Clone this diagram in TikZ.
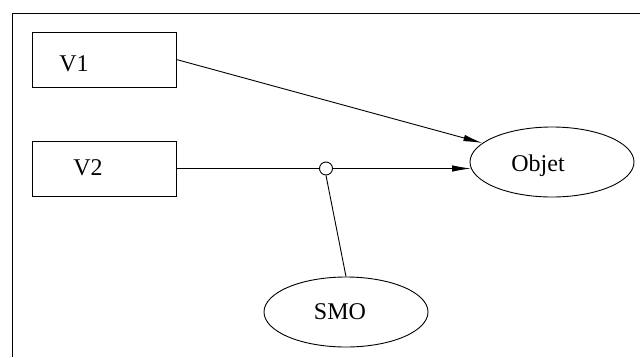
\documentclass[tikz,border=0pt]{standalone}
\usepackage{fontspec}
\setmainfont{Liberation Serif}
\usetikzlibrary{arrows.meta,shapes.geometric}
\begin{document}
\begin{tikzpicture}[x=1pt,y=-1pt,line width=0.9pt,
  varbox/.style={draw,minimum width=144pt,minimum height=55pt,inner sep=0pt},
  oval/.style={draw,ellipse,minimum width=164pt,minimum height=70pt,inner sep=0pt},
  lbl/.style={font=\fontsize{24}{26}\selectfont,inner sep=0pt},
  link/.style={-{Latex[length=19pt,width=6.5pt]}},
  joint/.style={draw,circle,fill=white,minimum size=13pt,inner sep=0pt}]
\useasboundingbox (0,0) rectangle (640,357);
% open frame: top and left sides only
\draw (12.5,357) -- (12.5,13) -- (640,13);
% variable boxes
\node[varbox] (v1) at (104,59.5) {};
\node[lbl] (v1t) at (74,64) {V1};
\node[varbox] (v2) at (104,168.5) {};
\node[lbl] (v2t) at (88,168) {V2};
% ellipses
\node[oval] (objet) at (552,162) {};
\node[lbl] (objett) at (538,166) {Objet};
\node[oval] (smo) at (346,312) {};
\node[lbl] (smot) at (340,312) {SMO};
% connectors
\draw[link] (v1.east) -- (objet);
\coordinate (v2end) at (471,168.5);
\draw[link] (v2.east) -- (v2end);
\node[joint] (junc) at (326,168.5) {};
\draw (junc.south) -- (smo.north);
\end{tikzpicture}
\end{document}
